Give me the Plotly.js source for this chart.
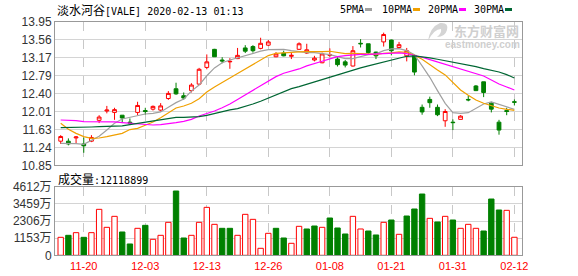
<!DOCTYPE html>
<html><head><meta charset="utf-8">
<script src="https://cdn.plot.ly/plotly-3.0.1.min.js"></script>
<style>html,body{margin:0;padding:0;background:#fff}#chart{width:578px;height:276px}</style>
</head><body><div id="chart"></div>
<script>
const dates = ['11-15','11-18','11-19','11-20','11-21','11-22','11-25','11-26','11-27','11-29',
'12-02','12-03','12-04','12-05','12-06','12-09','12-10','12-11','12-12','12-13',
'12-16','12-17','12-18','12-19','12-20','12-23','12-24','12-26','12-27','12-30',
'12-31','01-02','01-03','01-06','01-07','01-08','01-09','01-10','01-13','01-14',
'01-15','01-16','01-17','01-21','01-22','01-23','01-24','01-27','01-28','01-29',
'01-30','01-31','02-03','02-04','02-05','02-06','02-07','02-10','02-11','02-12'];
const open = [11.37,11.37,11.44,11.31,11.37,11.82,12.02,11.99,11.93,11.78,
11.99,12.03,12.06,12.04,12.29,12.50,12.35,12.46,12.60,12.96,
13.35,13.12,13.08,13.15,13.38,13.41,13.37,13.44,13.19,13.27,
13.20,13.35,13.27,13.12,13.06,13.22,13.14,13.08,12.99,13.48,
13.47,13.29,13.51,13.55,13.39,13.21,13.22,12.10,12.27,12.10,
11.81,11.78,11.84,12.27,12.56,12.65,12.19,11.78,12.03,12.22];
const high = [11.50,11.43,11.48,11.45,11.50,11.93,12.13,12.09,11.93,11.86,
12.22,12.09,12.14,12.19,12.45,12.63,12.42,12.62,12.95,13.24,
13.36,13.18,13.16,13.38,13.44,13.44,13.60,13.55,13.29,13.32,
13.27,13.50,13.47,13.21,13.28,13.37,13.18,13.12,13.42,13.57,
13.47,13.30,13.71,13.56,13.51,13.38,13.23,12.16,12.33,12.16,
12.06,11.84,11.93,12.35,12.58,12.65,12.22,11.83,12.09,12.27];
const low = [11.31,11.28,11.31,11.12,11.35,11.76,11.97,11.83,11.76,11.74,
11.93,11.94,12.03,12.01,12.26,12.37,12.26,12.42,12.58,12.92,
13.19,13.05,12.93,13.14,13.27,13.28,13.35,13.42,13.18,13.20,
13.14,13.34,13.25,13.09,13.05,13.18,12.98,12.96,12.98,13.39,
13.24,13.14,13.41,13.22,13.38,13.09,12.79,11.94,12.09,11.91,
11.68,11.61,11.84,12.23,12.45,12.32,11.99,11.51,11.93,12.14];
const close = [11.47,11.31,11.46,11.27,11.45,11.89,12.04,12.05,11.87,11.76,
12.14,12.01,12.12,12.13,12.40,12.39,12.30,12.58,12.92,13.08,
13.19,13.10,13.09,13.22,13.31,13.32,13.48,13.51,13.25,13.21,
13.22,13.47,13.34,13.16,13.25,13.23,13.02,13.01,13.32,13.47,
13.28,13.21,13.67,13.32,13.45,13.32,12.86,12.00,12.20,11.94,
12.01,11.77,11.91,12.26,12.46,12.42,12.06,11.61,12.01,12.21];
// volume in 万 shares
const volume = [1209,1343,1522,1209,1522,3090,1881,2620,1567,761,
1814,2015,1075,1343,2217,4321,1164,1343,2217,3224,
2082,1814,1814,1343,2754,2418,470,1478,1814,1164,
806,1948,1769,1970,1881,2508,1836,1433,2620,1769,
1634,1366,2217,2373,1411,2642,3112,4120,2485,2239,
2620,2373,1814,2082,1814,1634,3784,3045,3023,1211.8899];
const ma5 = [11.324,11.324,11.316,11.302,11.396,11.475,11.611,11.755,11.849,11.885,
11.935,11.956,11.971,12.000,12.100,12.201,12.280,12.450,12.580,12.780,
12.950,13.060,13.120,13.170,13.225,13.265,13.310,13.345,13.351,13.351,
13.323,13.294,13.279,13.279,13.265,13.236,13.193,13.150,13.150,13.193,
13.236,13.251,13.323,13.358,13.366,13.323,13.236,12.992,12.747,12.460,
12.186,11.985,11.971,11.985,12.086,12.172,12.215,12.158,12.107,12.057];
const ma10 = [11.755,11.626,11.539,11.468,11.432,11.439,11.468,11.496,11.539,11.620,
11.647,11.712,11.784,11.877,11.985,12.086,12.129,12.187,12.287,12.430,
12.540,12.630,12.730,12.830,12.930,13.030,13.130,13.215,13.265,13.279,
13.279,13.294,13.301,13.294,13.301,13.308,13.279,13.258,13.265,13.265,
13.251,13.236,13.265,13.272,13.294,13.287,13.222,13.136,13.013,12.906,
12.798,12.632,12.474,12.359,12.258,12.187,12.129,12.086,12.057,12.036];
const ma20 = [11.827,11.827,11.813,11.791,11.791,11.791,11.784,11.784,11.770,11.755,
11.748,11.734,11.719,11.726,11.741,11.770,11.798,11.841,11.913,11.964,
12.020,12.090,12.170,12.270,12.370,12.480,12.580,12.680,12.762,12.834,
12.877,12.927,12.992,13.049,13.092,13.143,13.193,13.215,13.236,13.243,
13.243,13.251,13.258,13.265,13.272,13.258,13.222,13.179,13.128,13.078,
13.028,12.970,12.920,12.877,12.834,12.776,12.690,12.604,12.539,12.474];
const ma30 = [11.662,11.662,11.662,11.662,11.676,11.683,11.683,11.690,11.698,11.726,
11.755,11.784,11.798,11.841,11.870,11.885,11.885,11.885,11.899,11.928,
11.971,12.007,12.043,12.071,12.115,12.172,12.230,12.301,12.374,12.445,
12.503,12.546,12.596,12.647,12.704,12.762,12.812,12.855,12.906,12.949,
12.992,13.035,13.078,13.121,13.164,13.200,13.207,13.193,13.164,13.136,
13.107,13.078,13.049,13.013,12.977,12.934,12.906,12.862,12.805,12.733];
const priceTicks = [10.85,11.2375,11.625,12.0125,12.4,12.7875,13.175,13.5625,13.95];
const priceTickText = ['10.85','11.24','11.63','12.01','12.40','12.79','13.17','13.56','13.95'];
const volTicks = [0,1153,2306,3459,4612];
const volTickText = ['0','1153万','2306万','3459万','4612万'];
const dateTicks = ['11-20','12-03','12-13','12-26','01-08','01-21','01-31','02-12'];
const stockName = '淡水河谷';
const stockCode = '[VALE]';
const stamp = '2020-02-13 01:13';
const maNames = ['5PMA','10PMA','20PMA','30PMA'];

const W = 578, H = 276;
const fx = p => p / W, fy = p => 1 - p / H;
const RED = '#ff0000', GREEN = '#008000';
const maColors = ['#a0a0a0', '#f0a000', '#ff00ff', '#006633'];

const volUp = volume.map((v, i) => close[i] >= (i === 0 ? open[0] : close[i - 1]));

const traces = [
  {type: 'candlestick', x: dates, open: open, high: high, low: low, close: close,
   xaxis: 'x', yaxis: 'y', whiskerwidth: 0, hoverinfo: 'skip',
   increasing: {line: {color: RED, width: 1}, fillcolor: '#ffffff'},
   decreasing: {line: {color: GREEN, width: 1}, fillcolor: GREEN}},
];
[ma5, ma10, ma20, ma30].forEach((m, k) => traces.push({
  type: 'scatter', mode: 'lines', x: dates, y: m, xaxis: 'x', yaxis: 'y',
  line: {color: maColors[k], width: 1.2}, hoverinfo: 'skip'}));
traces.push({type: 'bar', x: dates, y: volume, xaxis: 'x2', yaxis: 'y2', hoverinfo: 'skip',
  marker: {color: volUp.map(u => u ? '#ffffff' : GREEN),
           line: {color: volUp.map(u => u ? RED : GREEN), width: 1}}});

const tickFont = {family: 'Liberation Sans, Arial, Noto Sans CJK SC', size: 12, color: '#333'};
const xBase = {type: 'category', categoryorder: 'array', categoryarray: dates,
  domain: [fx(55), fx(522)], range: [-0.74, 59.99], tickvals: dateTicks, ticktext: dateTicks,
  showgrid: true, gridcolor: '#c8c8c8', griddash: 'dash', gridwidth: 1,
  showline: true, mirror: true, linecolor: '#999', linewidth: 1, zeroline: false, ticks: '',
  fixedrange: true, rangeslider: {visible: false}};
const layout = {
  width: W, height: H, margin: {l: 0, r: 0, t: 0, b: 0},
  paper_bgcolor: '#fff', plot_bgcolor: '#fff', showlegend: false, bargap: 0.3,
  xaxis: Object.assign({}, xBase, {anchor: 'y', showticklabels: false}),
  xaxis2: Object.assign({}, xBase, {anchor: 'y2', showticklabels: true,
    tickfont: {family: 'Liberation Sans, Arial', size: 11, color: RED}}),
  yaxis: {domain: [fy(165.3), fy(21.5)], range: [10.85, 13.95], tickvals: priceTicks, ticktext: priceTickText,
    showgrid: true, gridcolor: '#d4d4d4', showline: true, mirror: true, linecolor: '#999', linewidth: 1,
    zeroline: false, ticks: '', tickfont: tickFont, fixedrange: true},
  yaxis2: {domain: [fy(255.3), fy(186.7)], range: [0, 4612], tickvals: volTicks, ticktext: volTickText,
    showgrid: true, gridcolor: '#d4d4d4', showline: true, mirror: true, linecolor: '#999', linewidth: 1,
    zeroline: false, ticks: '', tickfont: tickFont, fixedrange: true},
  annotations: [], shapes: []
};
const mono = 'DejaVu Sans Mono, Noto Sans CJK SC';
const cjkSpan = t => '<span style="font-family:\'Noto Sans CJK SC\';font-size:12px">' + t + '</span>';
layout.annotations.push({xref: 'paper', yref: 'paper', x: fx(55), y: fy(9), xanchor: 'left', yanchor: 'middle',
  showarrow: false, text: cjkSpan(stockName) + stockCode + ' ' + stamp, font: {family: mono, size: 10, color: '#000'}});
layout.annotations.push({xref: 'paper', yref: 'paper', x: fx(56), y: fy(178), xanchor: 'left', yanchor: 'middle',
  showarrow: false, text: cjkSpan('成交量') + ':' + Math.round(volume[volume.length - 1] * 10000),
  font: {family: mono, size: 10, color: '#000'}});
const legX = [338, 380, 426, 472];
const dashX = [365, 413, 459, 505];
maNames.forEach((n, k) => {
  layout.annotations.push({xref: 'paper', yref: 'paper', x: fx(legX[k]), y: fy(9), xanchor: 'left', yanchor: 'middle',
    showarrow: false, text: n, font: {family: mono, size: 10, color: '#000'}});
  layout.shapes.push({type: 'line', xref: 'paper', yref: 'paper', x0: fx(dashX[k]), x1: fx(dashX[k] + 7),
    y0: fy(9.5), y1: fy(9.5), line: {color: maColors[k], width: 3}});
});
// watermark
layout.annotations.push({xref: 'paper', yref: 'paper', x: fx(521), y: fy(30), xanchor: 'right', yanchor: 'middle',
  showarrow: false, text: '<b>东方财富网</b>', font: {family: 'Noto Sans CJK SC', size: 13, color: '#cfcfcf'}});
layout.annotations.push({xref: 'paper', yref: 'paper', x: fx(522), y: fy(44), xanchor: 'right', yanchor: 'middle',
  showarrow: false, text: '<b>eastmoney.com</b>', font: {family: 'Liberation Sans', size: 10, color: '#cfcfcf'}});
const pt = (x, y) => fx(x).toFixed(5) + ',' + fy(y).toFixed(5);
layout.shapes.push({type: 'path', xref: 'paper', yref: 'paper', layer: 'below', fillcolor: '#d4d4d4',
  line: {width: 0},
  path: 'M' + pt(428, 41) + ' Q' + pt(430, 27) + ' ' + pt(440, 23) + ' Q' + pt(449, 22) + ' ' + pt(447, 30) +
        ' Q' + pt(445, 37) + ' ' + pt(437, 37) + ' Q' + pt(442, 33) + ' ' + pt(441, 29) +
        ' Q' + pt(434, 29) + ' ' + pt(428, 41) + ' Z'});
Plotly.newPlot('chart', traces, layout, {staticPlot: true, displayModeBar: false});
</script></body></html>
